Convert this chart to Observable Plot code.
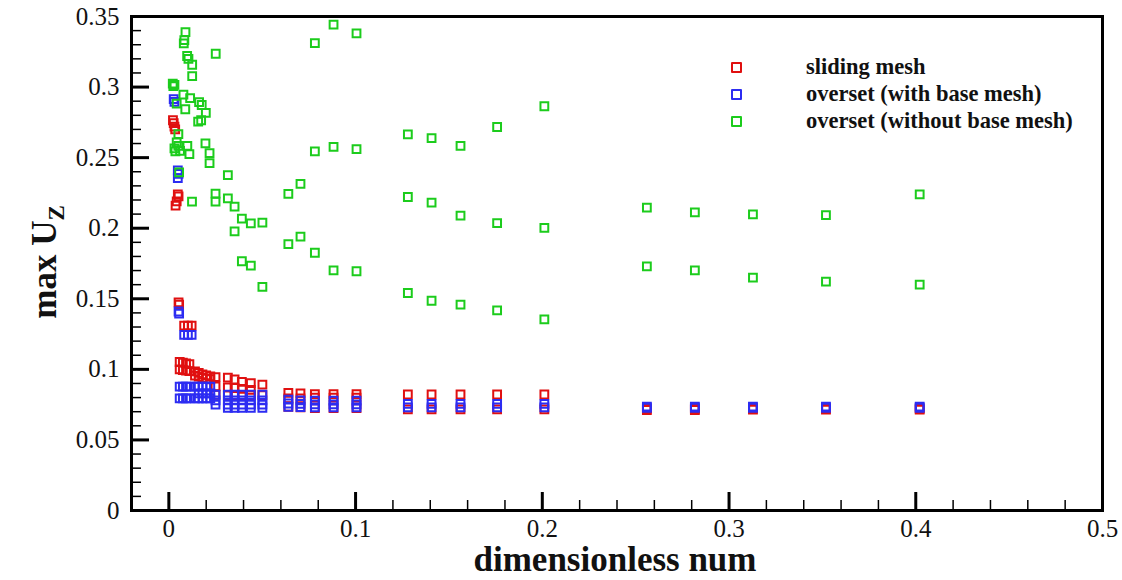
<!DOCTYPE html>
<html><head><meta charset="utf-8">
<script src="https://cdn.jsdelivr.net/npm/d3@7"></script>
<script src="https://cdn.jsdelivr.net/npm/@observablehq/plot@0.6"></script>
<style>
body{margin:0;background:#fff;}
#chart{position:relative;width:1122px;height:580px;}
#legend{position:absolute;left:731px;top:55px;font-family:"Liberation Serif",serif;font-weight:bold;font-size:22.5px;color:#111;}
#legend .row{position:relative;height:27px;line-height:24px;}
#legend .sym{position:absolute;left:0;top:7px;width:7px;height:7px;border:2px solid;border-radius:1px;}
#legend .lab{position:absolute;left:75px;top:0;white-space:nowrap;}
</style>
</head><body>
<div id="chart"><div id="legend"></div></div>
<script>
// ---- data ----
const seriesNames = ["sliding mesh", "overset (with base mesh)", "overset (without base mesh)"];
const seriesColors = ["#e01010", "#2c2cf2", "#1ccc1c"];

const slidingMesh = [
  [0.0022,0.2765],[0.0026,0.2745],[0.0030,0.2720],[0.0034,0.2700],
  [0.0048,0.2240],[0.0052,0.2225],[0.0042,0.2190],[0.0036,0.2160],
  [0.0052,0.1474],[0.0055,0.1458],
  [0.0082,0.1310],[0.0102,0.1310],[0.0122,0.1310],
  [0.0058,0.1052],[0.0075,0.1047],[0.0092,0.1042],[0.0110,0.1037],
  [0.0058,0.1000],[0.0075,0.0995],[0.0092,0.0992],[0.0110,0.0988],
  [0.0140,0.0985],[0.0160,0.0975],[0.0180,0.0965],[0.0200,0.0958],[0.0222,0.0950],
  [0.0140,0.0955],[0.0160,0.0948],[0.0180,0.0940],[0.0200,0.0935],[0.0222,0.0930],
  [0.0250,0.0945],[0.0316,0.0942],[0.0352,0.0928],[0.0391,0.0912],[0.0439,0.0902],[0.0501,0.0892],
  [0.0250,0.0880],[0.0316,0.0872],[0.0352,0.0868],[0.0391,0.0862],[0.0439,0.0855],
  [0.0250,0.0820],[0.0316,0.0818],[0.0352,0.0818],[0.0391,0.0818],[0.0439,0.0818],[0.0501,0.0818],
  [0.0640,0.0834],[0.0705,0.0830],[0.0782,0.0825],[0.0882,0.0825],[0.1005,0.0825],
  [0.0640,0.0795],[0.0705,0.0795],[0.0782,0.0800],[0.0882,0.0800],[0.1005,0.0800],
  [0.0640,0.0735],[0.0705,0.0730],[0.0782,0.0725],[0.0882,0.0725],[0.1005,0.0725],
  [0.1280,0.0822],[0.1407,0.0822],[0.1562,0.0822],[0.1758,0.0822],[0.2011,0.0822],
  [0.1280,0.0716],[0.1407,0.0716],[0.1562,0.0716],[0.1758,0.0716],[0.2011,0.0716],
  [0.2560,0.0722],[0.2817,0.0720],[0.3128,0.0722],[0.3519,0.0722],[0.4021,0.0722],
  [0.2560,0.0712],[0.2817,0.0712],[0.3128,0.0714],[0.3519,0.0714],[0.4021,0.0714]
];

const oversetWithBase = [
  [0.0026,0.2915],[0.0030,0.2895],
  [0.0048,0.2410],[0.0052,0.2385],[0.0048,0.2355],
  [0.0052,0.1410],[0.0055,0.1395],
  [0.0082,0.1245],[0.0102,0.1245],[0.0122,0.1245],
  [0.0058,0.0877],[0.0075,0.0877],[0.0092,0.0877],[0.0110,0.0877],[0.0140,0.0877],[0.0160,0.0877],[0.0180,0.0877],[0.0200,0.0877],[0.0222,0.0877],
  [0.0058,0.0794],[0.0075,0.0794],[0.0092,0.0794],[0.0110,0.0794],[0.0140,0.0794],[0.0160,0.0794],[0.0180,0.0794],[0.0200,0.0794],[0.0222,0.0794],
  [0.0160,0.0830],[0.0180,0.0830],[0.0200,0.0830],[0.0222,0.0830],
  [0.0250,0.0820],[0.0316,0.0820],[0.0352,0.0820],[0.0391,0.0820],[0.0439,0.0820],[0.0501,0.0820],
  [0.0250,0.0780],[0.0316,0.0780],[0.0352,0.0780],[0.0391,0.0780],[0.0439,0.0780],[0.0501,0.0780],
  [0.0250,0.0750],[0.0316,0.0750],[0.0352,0.0750],[0.0391,0.0750],[0.0439,0.0750],[0.0501,0.0750],
  [0.0316,0.0728],[0.0352,0.0728],[0.0391,0.0728],[0.0439,0.0728],[0.0501,0.0728],
  [0.0640,0.0785],[0.0705,0.0780],[0.0782,0.0778],[0.0882,0.0778],[0.1005,0.0778],
  [0.0640,0.0758],[0.0705,0.0755],[0.0782,0.0752],[0.0882,0.0752],[0.1005,0.0752],
  [0.0640,0.0735],[0.0705,0.0732],[0.0782,0.0730],[0.0882,0.0730],[0.1005,0.0730],
  [0.1280,0.0756],[0.1407,0.0756],[0.1562,0.0756],[0.1758,0.0756],[0.2011,0.0756],
  [0.1280,0.0730],[0.1407,0.0730],[0.1562,0.0730],[0.1758,0.0730],[0.2011,0.0730],
  [0.2560,0.0736],[0.2817,0.0736],[0.3128,0.0736],[0.3519,0.0736],[0.4021,0.0736],
  [0.2560,0.0728],[0.2817,0.0728],[0.3128,0.0728],[0.3519,0.0728],[0.4021,0.0728]
];

const oversetWithoutBase = [
  [0.0089,0.3390],[0.0083,0.3333],[0.0080,0.3310],[0.0251,0.3236],[0.0098,0.3220],[0.0105,0.3200],
  [0.0125,0.3158],[0.0125,0.3077],[0.0021,0.3025],[0.0024,0.3006],[0.0030,0.3015],
  [0.0078,0.2947],[0.0114,0.2921],[0.0042,0.2883],[0.0088,0.2843],[0.0162,0.2893],[0.0176,0.2873],
  [0.0198,0.2817],[0.0173,0.2765],[0.0157,0.2755],[0.0051,0.2667],[0.0042,0.2608],[0.0051,0.2584],
  [0.0060,0.2548],[0.0030,0.2565],[0.0035,0.2545],[0.0099,0.2584],[0.0110,0.2525],[0.0196,0.2601],
  [0.0218,0.2532],[0.0218,0.2461],[0.0316,0.2376],[0.0055,0.2395],
  [0.0250,0.2245],[0.0316,0.2212],[0.0250,0.2188],[0.0124,0.2188],[0.0352,0.2153],[0.0391,0.2068],
  [0.0439,0.2034],[0.0501,0.2039],[0.0352,0.1977],[0.0391,0.1766],[0.0439,0.1735],[0.0501,0.1584],
  [0.0640,0.2243],[0.0705,0.2314],[0.0640,0.1887],[0.0705,0.1940],
  [0.0782,0.3312],[0.0882,0.3442],[0.1005,0.3380],
  [0.0782,0.2544],[0.0882,0.2577],[0.1005,0.2560],
  [0.0782,0.1826],[0.0882,0.1702],[0.1005,0.1695],
  [0.1280,0.2665],[0.1407,0.2639],[0.1562,0.2584],[0.1758,0.2717],[0.2011,0.2864],
  [0.1280,0.2221],[0.1407,0.2181],[0.1562,0.2089],[0.1758,0.2036],[0.2011,0.2003],
  [0.1280,0.1541],[0.1407,0.1486],[0.1562,0.1458],[0.1758,0.1418],[0.2011,0.1354],
  [0.2560,0.2146],[0.2817,0.2112],[0.3128,0.2098],[0.3519,0.2093],[0.4021,0.2240],
  [0.2560,0.1730],[0.2817,0.1702],[0.3128,0.1650],[0.3519,0.1622],[0.4021,0.1600]
];

const xMajorTicks = [0, 0.1, 0.2, 0.3, 0.4, 0.5];
const xMinorTicks = [0.02,0.04,0.06,0.08,0.12,0.14,0.16,0.18,0.22,0.24,0.26,0.28,0.32,0.34,0.36,0.38,0.42,0.44,0.46,0.48];
const yMajorTicks = [0, 0.05, 0.1, 0.15, 0.2, 0.25, 0.3, 0.35];
const yMinorTicks = [0.01,0.02,0.03,0.04,0.06,0.07,0.08,0.09,0.11,0.12,0.13,0.14,0.16,0.17,0.18,0.19,0.21,0.22,0.23,0.24,0.26,0.27,0.28,0.29,0.31,0.32,0.33,0.34];
const xLabel = "dimensionless num";
const yLabelMain = "max U";
const yLabelSub = "Z";

// ---- layout ----
const W = 1122, H = 580, mL = 131, mR = 20, mT = 16, mB = 70;
const frameW = W - mL - mR, frameH = H - mT - mB;
const majorLen = 18, minorLen = 10;

// ---- chart ----
const allSeries = [slidingMesh, oversetWithBase, oversetWithoutBase];
const fmt = d => String(+d.toFixed(2));
const font = '"Liberation Serif", "Times New Roman", serif';

const dotMarks = allSeries.map((s, i) => Plot.dot(s, {
  x: d => d[0], y: d => d[1], symbol: "square", r: 4.4,
  stroke: seriesColors[i], strokeWidth: 2, fill: "none"
}));

const chart = Plot.plot({
  width: W, height: H,
  marginLeft: mL, marginRight: mR, marginTop: mT, marginBottom: mB,
  style: {fontFamily: font, fontSize: "25px", color: "#111", background: "#fff"},
  x: {domain: [-0.02, 0.5]},
  y: {domain: [0, 0.35]},
  marks: [
    ...dotMarks,
    // inward ticks, drawn as short rules from the axes
    Plot.ruleX(xMinorTicks, {x: d => d, insetTop: frameH - minorLen, stroke: "#000", strokeWidth: 1.5}),
    Plot.ruleX(xMajorTicks, {x: d => d, insetTop: frameH - majorLen, stroke: "#000", strokeWidth: 3}),
    Plot.ruleY(yMinorTicks, {y: d => d, insetRight: frameW - minorLen, stroke: "#000", strokeWidth: 1.5}),
    Plot.ruleY(yMajorTicks, {y: d => d, insetRight: frameW - majorLen, stroke: "#000", strokeWidth: 3}),
    // tick labels
    Plot.axisX({ticks: xMajorTicks, tickSize: 0, tickPadding: 9, tickFormat: fmt, label: null}),
    Plot.axisY({ticks: yMajorTicks, tickSize: 0, tickPadding: 12, tickFormat: fmt, label: null}),
    Plot.frame({stroke: "#000", strokeWidth: 3})
  ]
});

const svg = d3.select(chart);
svg.append("text")
  .attr("x", 615).attr("y", 571)
  .attr("text-anchor", "middle")
  .attr("font-family", font).attr("font-weight", "bold").attr("font-size", 35)
  .attr("fill", "#111")
  .text(xLabel);
const yl = svg.append("text")
  .attr("transform", "translate(56,262) rotate(-90)")
  .attr("text-anchor", "middle")
  .attr("font-family", font).attr("font-weight", "bold").attr("font-size", 35)
  .attr("fill", "#111");
yl.append("tspan").text(yLabelMain);
yl.append("tspan").attr("font-size", 23).attr("dy", 8).text(yLabelSub);

const holder = document.getElementById("chart");
holder.insertBefore(chart, holder.firstChild);
chart.style.position = "absolute"; chart.style.left = "0"; chart.style.top = "0";

const legend = d3.select("#legend");
seriesNames.forEach((name, i) => {
  const row = legend.append("div").attr("class", "row");
  row.append("div").attr("class", "sym").style("border-color", seriesColors[i]);
  row.append("div").attr("class", "lab").text(name);
});
</script>
</body></html>
